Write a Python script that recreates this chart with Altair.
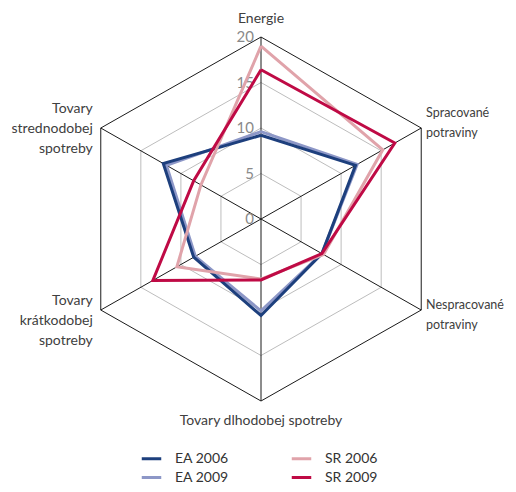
import altair as alt
import pandas as pd

categories = ["Energie", "Spracované potraviny", "Nespracované potraviny",
              "Tovary dlhodobej spotreby", "Tovary krátkodobej spotreby",
              "Tovary strednodobej spotreby"]
label_text = ["Energie", "Spracované\npotraviny", "Nespracované\npotraviny",
              "Tovary dlhodobej spotreby", "Tovary\nkrátkodobej\nspotreby",
              "Tovary\nstrednodobej\nspotreby"]
series = ["EA 2006", "EA 2009", "SR 2006", "SR 2009"]
ea_2006 = [9.2, 11.8, 7.6, 10.6, 8.4, 12.2]
ea_2009 = [9.6, 12.0, 7.6, 10.1, 8.2, 11.8]
sr_2006 = [19.0, 15.2, 7.8, 6.6, 10.5, 7.5]
sr_2009 = [16.4, 16.7, 7.6, 6.7, 13.5, 8.4]
grid_levels = [5, 10, 15, 20]
tick_values = [0, 5, 10, 15, 20]
series_colors = ["#1d3f7d", "#8d97c7", "#e0a3aa", "#bf0a45"]

FONT = "Lato"
n = len(categories)
values = {"EA 2006": ea_2006, "EA 2009": ea_2009, "SR 2006": sr_2006, "SR 2009": sr_2009}
RMAX = max(grid_levels)

rows = []
for s in series:
    vals = values[s]
    for i in range(n + 1):
        rows.append({"series": s, "idx": i, "value": vals[i % n]})
df_series = pd.DataFrame(rows)

grid_rows = []
for lv in grid_levels:
    for i in range(n + 1):
        grid_rows.append({"level": lv, "idx": i, "value": lv, "outer": lv == RMAX})
df_grid = pd.DataFrame(grid_rows)

df_spokes = pd.DataFrame({"idx": list(range(n)), "value": [RMAX] * n})
df_ticks = pd.DataFrame({"tick": tick_values, "label": [str(t) for t in tick_values]})
df_labels = pd.DataFrame({"idx": list(range(n)), "label": label_text, "value": [RMAX] * n})

W, H = 500, 476
XS = alt.Scale(domain=[-27.35, 26.7], nice=False, zero=False)
YS = alt.Scale(domain=[-29.12, 23.19], nice=False, zero=False)

ANG = "PI/2 - datum.idx*PI/3"
def polar(chart, extra=0):
    return chart.transform_calculate(
        px=f"(datum.value+{extra})*cos({ANG})",
        py=f"(datum.value+{extra})*sin({ANG})",
    )

def xy(**kw):
    return dict(x=alt.X("px:Q", scale=XS, axis=None),
                y=alt.Y("py:Q", scale=YS, axis=None), **kw)

grid_inner = polar(alt.Chart(df_grid).transform_filter("!datum.outer")).mark_line(
    color="#bdbdbd", strokeWidth=1).encode(**xy(detail="level:N", order="idx:Q"))
grid_outer = polar(alt.Chart(df_grid).transform_filter("datum.outer")).mark_line(
    color="#1a1a1a", strokeWidth=1).encode(**xy(order="idx:Q"))

spokes = alt.Chart(df_spokes).transform_calculate(
    px=f"datum.value*cos({ANG})", py=f"datum.value*sin({ANG})", z="0"
).mark_rule(color="#1a1a1a", strokeWidth=1).encode(
    x=alt.X("z:Q", scale=XS, axis=None), y=alt.Y("z:Q", scale=YS, axis=None),
    x2="px:Q", y2="py:Q")

legend = alt.Legend(orient="none", legendX=132, legendY=439, direction="vertical",
                    columns=2, title=None, symbolType="stroke",
                    symbolStrokeWidth=3, symbolSize=380,
                    labelFont=FONT, labelFontSize=14,
                    labelColor="#333333", labelOffset=12,
                    columnPadding=56, rowPadding=0)
color = alt.Color("series:N", scale=alt.Scale(domain=series, range=series_colors),
                  legend=legend)

lines = alt.layer(*[
    polar(alt.Chart(df_series).transform_filter(f"datum.series == '{s}'")).mark_line(
        strokeWidth=3, strokeJoin="miter").encode(**xy(color=color, order="idx:Q"))
    for s in ["EA 2009", "EA 2006", "SR 2006", "SR 2009"]
])

ticks = alt.Chart(df_ticks).transform_calculate(z="0").mark_text(
    align="right", baseline="middle", dx=-7, font=FONT, fontSize=15, color="#8a8a8a"
).encode(x=alt.X("z:Q", scale=XS, axis=None), y=alt.Y("tick:Q", scale=YS, axis=None),
         text="label:N")

def label_layer(idxs, extra, size=14, **mk):
    base = alt.Chart(df_labels).transform_filter(
        alt.FieldOneOfPredicate(field="idx", oneOf=idxs))
    return polar(base, extra=extra).mark_text(
        lineBreak="\n", font=FONT, fontSize=size, color="#404040", lineHeight=20, **mk
    ).encode(**xy(text="label:N"))

lab_top = label_layer([0], 2, align="center", baseline="middle")
lab_bottom = label_layer([3], 2, align="center", baseline="middle", dy=2)
lab_right_up = label_layer([1], 0.6, size=12.5, align="left", baseline="middle", dy=-12)
lab_right_dn = label_layer([2], 0.6, size=12.5, align="left", baseline="middle", dy=-8)
lab_left = label_layer([4, 5], 1, align="right", baseline="middle", dy=-14)

chart = alt.layer(grid_inner, grid_outer, spokes, ticks, lines,
                  lab_top, lab_bottom, lab_right_up, lab_right_dn, lab_left).properties(
    width=W, height=H,
    autosize=alt.AutoSizeParams(type="none"),
    padding=0,
).configure_view(stroke=None)

chart.save("out.html", embed_options={"renderer": "svg", "actions": False})
